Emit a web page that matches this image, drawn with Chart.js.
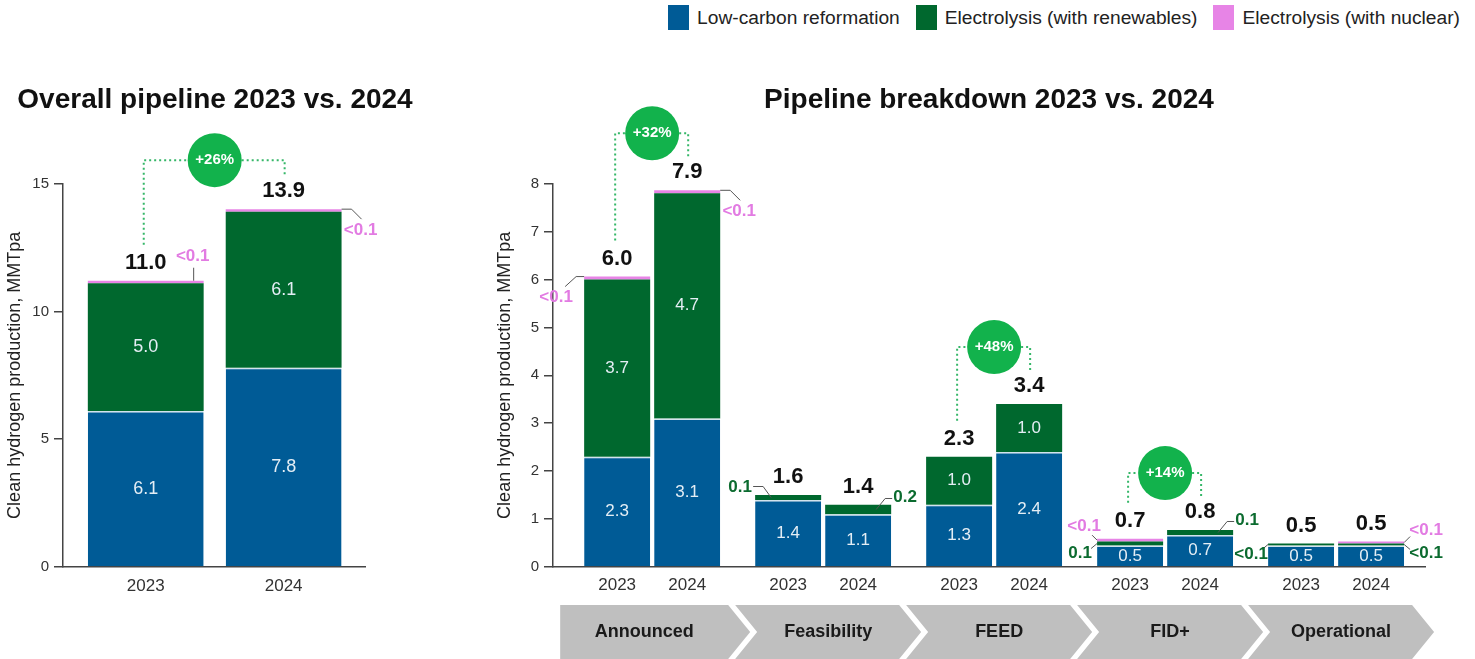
<!DOCTYPE html>
<html>
<head>
<meta charset="utf-8">
<script src="https://cdn.jsdelivr.net/npm/chart.js@4.4.1/dist/chart.umd.min.js"></script>
<style>
  html, body { margin: 0; padding: 0; background: #fff; }
  body { width: 1475px; height: 659px; position: relative; overflow: hidden; font-family: 'Liberation Sans', Arial, sans-serif; }
  #left { position: absolute; left: 0; top: 0; width: 430px; height: 659px; }
  #right { position: absolute; left: 490px; top: 0; width: 985px; height: 659px; }
  #legend { position: absolute; right: 15px; top: 5px; display: flex; align-items: center; }
  #legend .item { display: flex; align-items: center; margin-left: 16px; font-size: 19.2px; color: #222; }
  #legend .box { width: 21px; height: 25px; margin-right: 8px; }
</style>
</head>
<body>
<div id="legend"></div>
<div id="left"><canvas id="overall"></canvas></div>
<div id="right"><canvas id="breakdown"></canvas></div>
<script>
const years = ['2023', '2024']
const seriesNames = ['Low-carbon reformation', 'Electrolysis (with renewables)', 'Electrolysis (with nuclear)']
const seriesColors = ['#005B96', '#00682E', '#E784E6']

// overall pipeline, MMTpa (2023, 2024)
const overallLowCarbon = [6.1, 7.8]
const overallRenewables = [5.0, 6.1]
const overallNuclear = [0.1, 0.1]
const overallTotals = ['11.0', '13.9']
const overallLowCarbonLabels = ['6.1', '7.8']
const overallRenewablesLabels = ['5.0', '6.1']
const overallChange = '+26%'

// pipeline breakdown by stage, MMTpa
const stages = ['Announced', 'Feasibility', 'FEED', 'FID+', 'Operational']
const lowCarbon2023 = [2.3, 1.4, 1.3, 0.45, 0.45]
const renewables2023 = [3.7, 0.1, 1.0, 0.08, 0.04]
const nuclear2023 = [0.06, null, null, 0.06, null]
const lowCarbon2024 = [3.1, 1.1, 2.4, 0.67, 0.45]
const renewables2024 = [4.7, 0.2, 1.0, 0.1, 0.04]
const nuclear2024 = [0.06, null, null, null, 0.04]
const totals2023 = ['6.0', '1.6', '2.3', '0.7', '0.5']
const totals2024 = ['7.9', '1.4', '3.4', '0.8', '0.5']
const lowCarbonLabels2023 = ['2.3', '1.4', '1.3', '0.5', '0.5']
const renewablesLabels2023 = ['3.7', null, '1.0', null, null]
const lowCarbonLabels2024 = ['3.1', '1.1', '2.4', '0.7', '0.5']
const renewablesLabels2024 = ['4.7', null, '1.0', null, null]
const changeStages = [0, 2, 3]
const changeTexts = ['+32%', '+48%', '+14%']

// small segments labelled outside the bar: [year, series, text, placement]
const overallCallouts = [
  [0, 2, '<0.1', 'top'],
  [1, 2, '<0.1', 'right-below']
]
// [stage, year, series, text, placement]
const breakdownCallouts = [
  [0, 0, 2, '<0.1', 'left-below'],
  [0, 1, 2, '<0.1', 'right-below'],
  [1, 0, 1, '0.1', 'left-above'],
  [1, 1, 1, '0.2', 'right-above'],
  [3, 0, 2, '<0.1', 'left-up'],
  [3, 0, 1, '0.1', 'left-down'],
  [3, 1, 1, '0.1', 'right-above'],
  [4, 0, 1, '<0.1', 'left-down'],
  [4, 1, 2, '<0.1', 'right-up'],
  [4, 1, 1, '<0.1', 'right-down']
]

const FONT = "'Liberation Sans', Arial, sans-serif"
const textColors = ['#005B96', '#0b6b2f', '#E27BE2']
Chart.defaults.font.family = FONT

// legend
const legendEl = document.getElementById('legend')
seriesNames.forEach((name, s) => {
  const item = document.createElement('div')
  item.className = 'item'
  item.innerHTML = '<span class="box" style="background:' + seriesColors[s] + '"></span>' + name
  legendEl.appendChild(item)
})

function box(el) {
  if (!el) return null
  const p = el.getProps(['x', 'y', 'base', 'width'], true)
  if (!isFinite(p.y) || Math.abs(p.base - p.y) < 0.01) return null
  const top = Math.min(p.y, p.base), bottom = Math.max(p.y, p.base)
  return { x: p.x, top, bottom, mid: (top + bottom) / 2, left: p.x - p.width / 2, right: p.x + p.width / 2 }
}

function text(ctx, str, x, y, size, color, bold) {
  ctx.font = (bold ? 'bold ' : '') + size + 'px ' + FONT
  ctx.fillStyle = color
  ctx.textAlign = 'center'
  ctx.textBaseline = 'middle'
  ctx.fillText(str, x, y)
}

function stackTop(segs) {
  return Math.min(...segs.filter(s => s).map(s => s.top))
}

function callout(ctx, s, str, color, place) {
  const m = s.mid
  let pts, tx, ty
  switch (place) {
    case 'top': pts = [[s.right - 10, s.top], [s.right - 10, s.top - 13]]; tx = s.right - 11; ty = s.top - 24; break
    case 'left-below': pts = [[s.left, s.top], [s.left - 8, s.top], [s.left - 19, s.top + 10]]; tx = s.left - 28; ty = s.top + 21; break
    case 'right-below': pts = [[s.right, s.top], [s.right + 10, s.top], [s.right + 20, s.top + 10]]; tx = s.right + 19; ty = s.top + 21; break
    case 'left-above': pts = [[s.left + 16, m], [s.left + 8, m - 11], [s.left - 2, m - 11]]; tx = s.left - 15; ty = m - 10; break
    case 'right-above': pts = [[s.right - 15, m], [s.right - 6, m - 11], [s.right + 1, m - 11]]; tx = s.right + 14; ty = m - 12; break
    case 'left-up': pts = [[s.left, m], [s.left - 5, m - 5]]; tx = s.left - 13; ty = m - 14; break
    case 'left-down': pts = [[s.left, m], [s.left - 6, m + 5]]; tx = s.left - 17; ty = m + 10; break
    case 'right-up': pts = [[s.right, m], [s.right + 6, m - 6]]; tx = s.right + 22; ty = m - 12; break
    case 'right-down': pts = [[s.right, m], [s.right + 6, m + 5]]; tx = s.right + 22; ty = m + 9; break
  }
  ctx.strokeStyle = '#555'
  ctx.lineWidth = 1
  ctx.beginPath()
  pts.forEach((p, i) => i ? ctx.lineTo(p[0], p[1]) : ctx.moveTo(p[0], p[1]))
  ctx.stroke()
  text(ctx, str, tx, ty, 17, color, true)
}

function badge(ctx, a, b, str, rise) {
  const cx = (a.x + b.x) / 2
  const cy = Math.min(a.top, b.top) - rise
  const lx = a.x - 2, rx = b.x + 1
  ctx.save()
  ctx.setLineDash([2, 3])
  ctx.strokeStyle = '#35b768'
  ctx.lineWidth = 2
  ctx.beginPath()
  ctx.moveTo(lx, a.top - 36); ctx.lineTo(lx, cy); ctx.lineTo(cx - 27, cy)
  ctx.moveTo(cx + 27, cy); ctx.lineTo(rx, cy); ctx.lineTo(rx, b.top - 34)
  ctx.stroke()
  ctx.restore()
  ctx.fillStyle = '#12B24C'
  ctx.beginPath()
  ctx.arc(cx, cy, 27, 0, Math.PI * 2)
  ctx.fill()
  text(ctx, str, cx, cy, 15, '#fff', true)
}

const axisY = (max, step) => ({
  stacked: true, min: 0, max,
  ticks: { stepSize: step, font: { size: 15 }, color: '#333', padding: 5 },
  grid: { drawOnChartArea: false, tickLength: 9, color: '#444', lineWidth: 1.5 },
  border: { color: '#444', width: 1.5 },
  title: { display: true, text: 'Clean hydrogen production, MMTpa', font: { size: 18 }, color: '#222', padding: { top: 4, bottom: 4 } },
  afterFit: s => { s.width = 63 }
})

// empty right-hand axis that only reserves space
const spacer = width => ({
  position: 'right', display: true,
  ticks: { display: false }, grid: { display: false, drawTicks: false }, border: { display: false },
  afterFit: s => { s.width = width }
})

const chartTitle = (str, fullSize) => ({
  display: true, text: str, fullSize, color: '#111',
  font: { size: 28, weight: 'bold' }, padding: { top: 83, bottom: 67 }
})

// ---------- overall pipeline ----------
const overallSeries = [overallLowCarbon, overallRenewables, overallNuclear]
const overallNotes = {
  id: 'overallNotes',
  afterDatasetsDraw(chart) {
    const ctx = chart.ctx
    const stacks = years.map((_, y) => overallSeries.map((_, s) => box(chart.getDatasetMeta(s).data[y])))
    const tops = []
    stacks.forEach((segs, y) => {
      const top = stackTop(segs)
      tops.push({ x: segs[0].x, top })
      text(ctx, overallTotals[y], segs[0].x, top - 18, 22, '#111', true)
      text(ctx, overallLowCarbonLabels[y], segs[0].x, segs[0].mid, 18, '#e4eef5')
      text(ctx, overallRenewablesLabels[y], segs[1].x, segs[1].mid, 18, '#e4eef5')
    })
    overallCallouts.forEach(([y, s, str, place]) => callout(ctx, stacks[y][s], str, textColors[s], place))
    badge(ctx, tops[0], tops[1], overallChange, 49)
  }
}

new Chart(document.getElementById('overall'), {
  type: 'bar',
  data: {
    datasets: overallSeries.map((vals, s) => ({
      label: seriesNames[s],
      data: vals.map((v, i) => ({ x: i, y: v })),
      backgroundColor: seriesColors[s],
      borderColor: '#d3e3ee',
      borderWidth: s === 0 ? { top: 1.5, right: 0, bottom: 0, left: 0 } : 0,
      categoryPercentage: 1,
      barPercentage: 0.84
    }))
  },
  options: {
    animation: false, responsive: true, maintainAspectRatio: false,
    layout: { padding: { bottom: 64 } },
    plugins: { legend: { display: false }, tooltip: { enabled: false }, title: chartTitle('Overall pipeline 2023 vs. 2024', true) },
    scales: {
      x: {
        type: 'linear', min: -0.6, max: 1.59, stacked: true, offset: false,
        grid: { display: false, drawTicks: false },
        border: { color: '#444', width: 1.5 },
        ticks: { font: { size: 17 }, color: '#333', padding: 9, callback: v => years[v] },
        afterBuildTicks: s => { s.ticks = years.map((_, i) => ({ value: i })) },
        afterFit: s => { s.height = 28 }
      },
      y: axisY(15, 5),
      space: spacer(65)
    }
  },
  plugins: [overallNotes]
})

// ---------- pipeline breakdown ----------
const breakdownSeries = [[lowCarbon2023, renewables2023, nuclear2023], [lowCarbon2024, renewables2024, nuclear2024]]
const breakdownTotals = [totals2023, totals2024]
const insideLabels = [[lowCarbonLabels2023, renewablesLabels2023], [lowCarbonLabels2024, renewablesLabels2024]]

const breakdownNotes = {
  id: 'breakdownNotes',
  afterDatasetsDraw(chart) {
    const ctx = chart.ctx
    const area = chart.chartArea
    const stacks = years.map((_, y) => stages.map((_, i) => [0, 1, 2].map(s => box(chart.getDatasetMeta(y * 3 + s).data[i]))))
    const tops = years.map(() => [])
    stacks.forEach((row, y) => row.forEach((segs, i) => {
      const top = stackTop(segs)
      const x = segs[0].x
      tops[y][i] = { x, top }
      text(ctx, breakdownTotals[y][i], x, top - 18, 22, '#111', true)
      insideLabels[y].forEach((labels, s) => {
        if (labels[i]) text(ctx, labels[i], x, segs[s].mid, 17, '#e4eef5')
      })
      text(ctx, years[y], x, area.bottom + 18, 17, '#333')
    }))
    breakdownCallouts.forEach(([i, y, s, str, place]) => callout(ctx, stacks[y][i][s], str, textColors[s], place))
    changeStages.forEach((i, k) => badge(ctx, tops[0][i], tops[1][i], changeTexts[k], 57))

    // stage chevrons
    const xs = chart.scales.x
    const top = 605, bottom = chart.height, mid = (top + bottom) / 2
    stages.forEach((name, i) => {
      const c = xs.getPixelForValue(i)
      const first = i === 0
      const l = first ? c - 92 : c - 88
      ctx.fillStyle = '#bfbfbf'
      ctx.beginPath()
      ctx.moveTo(l, top); ctx.lineTo(c + 76, top); ctx.lineTo(c + 98, mid); ctx.lineTo(c + 76, bottom); ctx.lineTo(l, bottom)
      if (!first) ctx.lineTo(l + 22, mid)
      ctx.closePath()
      ctx.fill()
      const inner = first ? l : l + 22
      text(ctx, name, (inner + c + 76) / 2, mid, 18, '#1a1a1a', true)
    })
  }
}

new Chart(document.getElementById('breakdown'), {
  type: 'bar',
  data: {
    datasets: years.flatMap((yr, y) => breakdownSeries[y].map((vals, s) => ({
      label: seriesNames[s],
      stack: yr,
      data: vals.map((v, i) => ({ x: i, y: v })),
      backgroundColor: seriesColors[s],
      borderColor: '#d3e3ee',
      borderWidth: s === 0 ? { top: 1.5, right: 0, bottom: 0, left: 0 } : 0,
      categoryPercentage: 0.819,
      barPercentage: 0.943
    })))
  },
  options: {
    animation: false, responsive: true, maintainAspectRatio: false,
    layout: { padding: { right: 50, bottom: 82 } },
    plugins: { legend: { display: false }, tooltip: { enabled: false }, title: chartTitle('Pipeline breakdown 2023 vs. 2024', false) },
    scales: {
      x: {
        type: 'linear', min: -0.58, max: 4.52, stacked: true, offset: false,
        grid: { display: false, drawTicks: false },
        border: { color: '#444', width: 1.5 },
        ticks: { display: false },
        afterBuildTicks: s => { s.ticks = stages.map((_, i) => ({ value: i })) },
        afterFit: s => { s.height = 10 }
      },
      y: axisY(8, 1)
    }
  },
  plugins: [breakdownNotes]
})
</script>
</body>
</html>
